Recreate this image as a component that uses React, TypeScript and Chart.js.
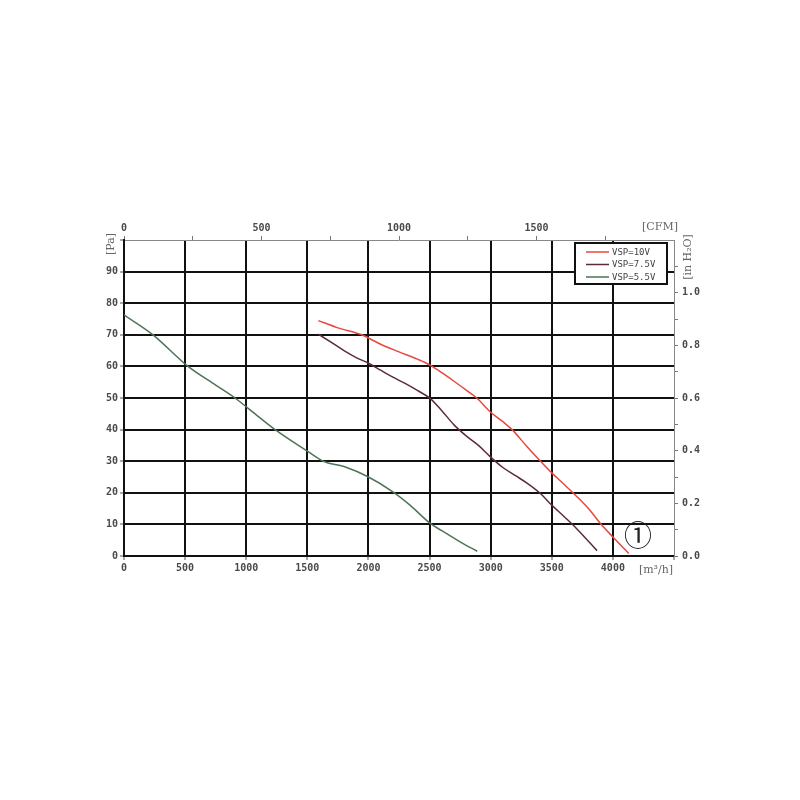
import React, { useEffect, useRef } from "react";
import { Chart, registerables } from "chart.js";

Chart.register(...registerables);

// ---- data (m³/h vs Pa) ----
const seriesNames = ["VSP=10V", "VSP=7.5V", "VSP=5.5V"];
const seriesColors = ["#e8483e", "#5b2b3f", "#4d7556"];

const flow10 = [1590, 1750, 1945, 2000, 2100, 2250, 2400, 2504, 2600, 2700, 2800, 2886, 3000, 3100, 3175, 3300, 3400, 3500, 3600, 3700, 3800, 3900, 4000, 4130];
const pa10 = [74.5, 72.2, 70.0, 69.0, 67.0, 64.6, 62.3, 60.4, 58.0, 55.3, 52.5, 50.0, 45.5, 42.5, 40.0, 34.5, 30.3, 26.3, 22.7, 19.0, 15.0, 10.2, 6.0, 0.8];

const flow75 = [1590, 1700, 1800, 1900, 2000, 2100, 2200, 2300, 2400, 2504, 2600, 2700, 2800, 2900, 3000, 3100, 3200, 3300, 3400, 3500, 3600, 3700, 3870];
const pa75 = [70.2, 67.5, 65.0, 62.8, 61.0, 58.8, 56.6, 54.6, 52.4, 49.9, 46.0, 41.5, 38.0, 35.0, 31.3, 28.0, 25.5, 23.0, 20.0, 16.1, 12.5, 8.8, 1.7];

const flow55 = [0, 237, 524, 750, 908, 1100, 1236, 1500, 1630, 1800, 2000, 2200, 2340, 2500, 2600, 2750, 2890];
const pa55 = [76.3, 70.0, 60.0, 54.1, 50.0, 44.1, 40.0, 33.2, 30.0, 28.3, 25.0, 20.3, 16.1, 10.5, 8.0, 4.5, 1.5];

const flowTicks = [0, 500, 1000, 1500, 2000, 2500, 3000, 3500, 4000];
const cfmTicks = [0, 500, 1000, 1500];
const paTicks = [0, 10, 20, 30, 40, 50, 60, 70, 80, 90];
const inH2OTicks = [0, 0.2, 0.4, 0.6, 0.8, 1.0];

const flowUnit = "[m³/h]";
const cfmUnit = "[CFM]";
const paUnit = "[Pa]";
const inH2OUnit = "[in H₂O]";
const curveMark = "①";

const toPoints = (xs: number[], ys: number[]) => xs.map((x, i) => ({ x, y: ys[i] }));

const TICK_FONT = { family: "'DejaVu Sans Mono', monospace", size: 10, weight: "bold" as const };
const TICK_COLOR = "#4a4a4a";

export default function App() {
  const ref = useRef<HTMLCanvasElement | null>(null);

  useEffect(() => {
    if (!ref.current) return;

    const overlay = {
      id: "overlay",
      afterDraw(chart: any) {
        const { ctx, chartArea } = chart;
        const { left, right, top, bottom } = chartArea;
        ctx.save();
        // unit labels
        ctx.fillStyle = "#666";
        ctx.font = "11px 'DejaVu Serif', serif";
        ctx.textAlign = "center";
        ctx.textBaseline = "middle";
        ctx.fillText(cfmUnit, right - 14, top - 13);
        ctx.fillText(flowUnit, right - 18, bottom + 14);

        ctx.save();
        ctx.translate(left - 13, top + 4);
        ctx.rotate(-Math.PI / 2);
        ctx.fillText(paUnit, 0, 0);
        ctx.restore();

        ctx.save();
        ctx.translate(right + 14, top + 17);
        ctx.rotate(-Math.PI / 2);
        ctx.fillText(inH2OUnit, 0, 0);
        ctx.restore();

        // legend box
        const bx = right - 99, by = top + 3, bw = 92, bh = 41;
        ctx.fillStyle = "#fff";
        ctx.fillRect(bx, by, bw, bh);
        ctx.strokeStyle = "#111";
        ctx.lineWidth = 2;
        ctx.strokeRect(bx, by, bw, bh);
        ctx.font = "9px 'DejaVu Sans Mono', monospace";
        ctx.textAlign = "left";
        seriesNames.forEach((name, i) => {
          const y = by + 9 + i * 12.5;
          ctx.strokeStyle = seriesColors[i];
          ctx.lineWidth = 1.5;
          ctx.beginPath();
          ctx.moveTo(bx + 11, y);
          ctx.lineTo(bx + 34, y);
          ctx.stroke();
          ctx.fillStyle = "#444";
          ctx.fillText(name, bx + 37, y + 0.5);
        });

        // curve marker
        ctx.fillStyle = "#222";
        ctx.font = "28px 'DejaVu Serif', 'Noto Sans CJK JP', serif";
        ctx.textAlign = "center";
        ctx.textBaseline = "middle";
        ctx.fillText(curveMark, right - 36, bottom - 17);
        ctx.restore();
      },
    };

    const blackGrid = (hideVal: number) => (c: any) =>
      c.tick && Math.abs(c.tick.value - hideVal) < 1e-6 ? "rgba(0,0,0,0)" : "#111";

    const ds = (i: number, xs: number[], ys: number[]) => ({
      label: seriesNames[i],
      data: toPoints(xs, ys),
      borderColor: seriesColors[i],
      backgroundColor: seriesColors[i],
      borderWidth: 1.5,
      pointRadius: 0,
      cubicInterpolationMode: "monotone",
      xAxisID: "x",
      yAxisID: "y",
    });

    const chart = new Chart(ref.current, {
      type: "line",
      data: {
        datasets: [ds(0, flow10, pa10), ds(1, flow75, pa75), ds(2, flow55, pa55)],
      },
      options: {
        animation: false,
        responsive: false,
        layout: { padding: { left: 94, right: 86, top: 220, bottom: 220 } },
        plugins: { legend: { display: false }, tooltip: { enabled: false } },
        scales: {
          x: {
            type: "linear",
            position: "bottom",
            min: 0,
            max: 4500,
            afterFit: (s: any) => { s.height = 24; },
            afterBuildTicks: (s: any) => { s.ticks = [...flowTicks, 4500].map((v) => ({ value: v })); },
            ticks: { callback: (v: any) => (flowTicks.includes(v) ? String(v) : ""), font: TICK_FONT, color: TICK_COLOR, padding: 2, maxRotation: 0, autoSkip: false },
            grid: { color: blackGrid(4500), lineWidth: 2, tickLength: 4, tickColor: "#555", tickWidth: 1 },
            border: { color: "#111", width: 2 },
          },
          x2: {
            type: "linear",
            position: "top",
            min: 0,
            max: 2000,
            afterFit: (s: any) => { s.height = 20; },
            afterBuildTicks: (s: any) => { s.ticks = [0, 250, 500, 750, 1000, 1250, 1500, 1750].map((v) => ({ value: v })); },
            ticks: { callback: (v: any) => (cfmTicks.includes(v) ? String(v) : ""), font: TICK_FONT, color: TICK_COLOR, padding: 2, maxRotation: 0, autoSkip: false },
            grid: { drawOnChartArea: false, tickLength: 4, color: "#777", tickColor: "#777" },
            border: { color: "#888", width: 1 },
          },
          y: {
            type: "linear",
            position: "left",
            min: 0,
            max: 100,
            afterFit: (s: any) => { s.width = 30; },
            afterBuildTicks: (s: any) => { s.ticks = [...paTicks, 100].map((v) => ({ value: v })); },
            ticks: { callback: (v: any) => (paTicks.includes(v) ? String(v) : ""), font: TICK_FONT, color: TICK_COLOR, padding: 2, autoSkip: false },
            grid: { color: blackGrid(100), lineWidth: 2, tickLength: 4, tickColor: "#555", tickWidth: 1 },
            border: { color: "#111", width: 2 },
          },
          y2: {
            type: "linear",
            position: "right",
            min: 0,
            max: 1.2,
            afterFit: (s: any) => { s.width = 40; },
            afterBuildTicks: (s: any) => { s.ticks = [0, 0.1, 0.2, 0.3, 0.4, 0.5, 0.6, 0.7, 0.8, 0.9, 1.0, 1.1].map((v) => ({ value: v })); },
            ticks: {
              callback: (v: any) => (inH2OTicks.some((t) => Math.abs(t - v) < 1e-6) ? Number(v).toFixed(1) : ""),
              font: TICK_FONT, color: TICK_COLOR, padding: 4, autoSkip: false,
            },
            grid: { drawOnChartArea: false, tickLength: 4, color: "#777", tickColor: "#777" },
            border: { color: "#888", width: 1 },
          },
        },
      } as any,
      plugins: [overlay],
    });
    return () => chart.destroy();
  }, []);

  return (
    <div style={{ position: "fixed", left: 0, top: 0, width: 800, height: 800, background: "#fff" }}>
      <canvas ref={ref} width={800} height={800} style={{ width: 800, height: 800, display: "block" }} />
    </div>
  );
}
